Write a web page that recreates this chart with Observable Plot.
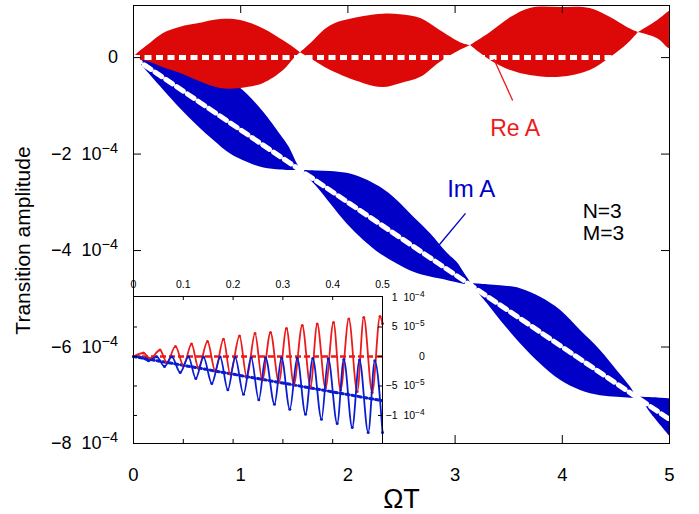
<!DOCTYPE html>
<html><head><meta charset="utf-8">
<script src="https://cdn.jsdelivr.net/npm/d3@7"></script>
<script src="https://cdn.jsdelivr.net/npm/@observablehq/plot@0.6"></script>
<style>
html,body{margin:0;padding:0;background:#fff;}
#wrap{position:relative;width:699px;height:514px;overflow:hidden;background:#fff;}
#main{position:absolute;left:0;top:0;}
#inset{position:absolute;left:123px;top:276px;}
</style></head><body><div id="wrap"><div id="main"></div><div id="inset"></div></div>
<script>
// ---------- main panel data (y in units of 1e-4) ----------
const xTickVals = [0, 1, 2, 3, 4, 5];
const xTickLabels = ["0", "1", "2", "3", "4", "5"];
const yTickVals = [0, -2, -4, -6, -8];
const yTickLabels = ["0", "−2\u00a0\u00a010^−4", "−4\u00a0\u00a010^−4", "−6\u00a0\u00a010^−4", "−8\u00a0\u00a010^−4"];

// Re A: envelope of the fast oscillation, one hump per segment
const redHump = [1,1,1,1,1,1,1,1,1,1,1,1, 2,2,2,2,2,2,2,2,2,2, 3,3,3,3,3,3,3,3,3, 4,4,4,4];
const redX  = [0, 0.04, 0.16, 0.28, 0.44, 0.60, 0.81, 1.00, 1.21, 1.40, 1.50, 1.558,
               1.558, 1.65, 1.84, 2.15, 2.33, 2.49, 2.68, 2.86, 3.05, 3.144,
               3.144, 3.33, 3.52, 3.70, 3.98, 4.26, 4.45, 4.61, 4.71,
               4.71, 4.89, 4.98, 5.00];
const redHi = [0, 0.09, 0.30, 0.50, 0.63, 0.70, 0.79, 0.77, 0.60, 0.35, 0.20, 0.10,
               0.10, 0.28, 0.66, 0.85, 0.90, 0.89, 0.81, 0.56, 0.31, 0.25,
               0.25, 0.52, 0.83, 1.02, 1.04, 1.02, 0.83, 0.62, 0.52,
               0.52, 0.77, 0.93, 0.96];
const redLo = [0, -0.04, -0.10, -0.21, -0.33, -0.48, -0.64, -0.64, -0.54, -0.27, -0.02, 0.10,
               0.10, -0.02, -0.27, -0.54, -0.62, -0.54, -0.41, -0.10, 0.15, 0.25,
               0.25, -0.06, -0.27, -0.37, -0.41, -0.27, 0.00, 0.28, 0.52,
               0.52, 0.39, 0.21, 0.18];

// Im A: envelope of the fast oscillation, one hump per segment
const blueHump = [1,1,1,1,1,1,1,1,1,1,1,1,1,1, 2,2,2,2,2,2,2,2,2,2,2,2,2, 3,3,3,3,3,3,3,3,3,3,3, 4,4,4,4];
const blueX  = [0, 0.035, 0.16, 0.283, 0.438, 0.594, 0.749, 0.905, 1.061, 1.216, 1.371, 1.45, 1.527, 1.558,
                1.589, 1.714, 1.838, 1.993, 2.148, 2.304, 2.460, 2.615, 2.771, 2.926, 3.02, 3.081, 3.144,
                3.174, 3.300, 3.424, 3.610, 3.797, 3.983, 4.170, 4.356, 4.512, 4.636, 4.683,
                4.729, 4.854, 4.994, 5.0];
const blueHi = [0, 0, -0.01, -0.03, -0.09, -0.17, -0.31, -0.48, -0.76, -1.14, -1.60, -1.85, -2.20, -2.31,
                -2.34, -2.35, -2.36, -2.40, -2.51, -2.69, -2.96, -3.31, -3.65, -4.05, -4.25, -4.45, -4.66,
                -4.69, -4.71, -4.73, -4.79, -4.97, -5.24, -5.66, -6.07, -6.49, -6.83, -7.00,
                -7.04, -7.05, -7.07, -7.07];
const blueLo = [0, -0.06, -0.37, -0.68, -1.06, -1.41, -1.72, -2.00, -2.17, -2.29, -2.33, -2.34, -2.34, -2.33,
                -2.41, -2.69, -3.03, -3.45, -3.79, -4.07, -4.28, -4.45, -4.55, -4.62, -4.67, -4.70, -4.70,
                -4.76, -5.10, -5.45, -5.93, -6.35, -6.69, -6.90, -7.01, -7.04, -7.06, -7.07,
                -7.07, -7.45, -7.83, -7.85];

// mean of Im A (white dashed centre line)
const meanX = [0, 5];
const meanY = [0, -7.5];

// annotations
const annoLabels = ["Re A", "Im A", "N=3", "M=3"];
const annoX = [3.56, 3.15, 4.19, 4.19];
const annoY = [-1.62, -2.88, -3.32, -3.79];
const pointerX1 = [3.537, 3.097], pointerY1 = [-0.89, -3.23];
const pointerX2 = [3.361, 2.845], pointerY2 = [-0.027, -3.90];

// ---------- inset data (y in units of 1e-5) ----------
const insetXTickVals = [0, 0.1, 0.2, 0.3, 0.4, 0.5];
const insetXTickLabels = ["0", "0.1", "0.2", "0.3", "0.4", "0.5"];
const insetYTickVals = [10, 5, 0, -5, -10];
const insetYTickLabels = ["1\u00a0\u00a010^−4", "5\u00a0\u00a010^−5", "0", "−5\u00a0\u00a010^−5", "−1\u00a0\u00a010^−4"];

const insetRedX = [0, 0.020, 0.0335, 0.0532, 0.0669, 0.0843, 0.1004, 0.1165, 0.1305, 0.1486, 0.1641, 0.1807, 0.1942, 0.2129, 0.2275, 0.2440, 0.2584, 0.2751, 0.2918, 0.3072, 0.3219, 0.3388, 0.3554, 0.3689, 0.3855, 0.4016, 0.4157, 0.4323, 0.4492, 0.4624, 0.4793, 0.4950, 0.5];
const insetRedY = [0, 0.59, -0.34, 1.10, -1.02, 1.70, -1.53, 2.12, -1.95, 2.54, -2.46, 2.93, -2.97, 3.47, -3.56, 3.90, -3.98, 4.07, -4.32, 4.75, -4.75, 5.25, -5.09, 5.51, -5.34, 5.76, -5.68, 6.36, -5.93, 6.61, -6.10, 6.78, 5.6];
const insetBlueX = [0, 0.012, 0.0301, 0.0468, 0.0622, 0.0769, 0.0938, 0.1104, 0.1251, 0.1406, 0.1572, 0.1741, 0.1894, 0.2042, 0.2209, 0.2363, 0.2516, 0.2651, 0.2831, 0.2972, 0.3139, 0.3287, 0.3454, 0.3600, 0.3775, 0.3910, 0.4090, 0.4223, 0.4392, 0.4538, 0.4713, 0.4845, 0.5];
const insetBlueY = [0, -0.05, -0.73, -0.05, -1.70, -0.05, -2.71, -0.05, -3.73, -0.10, -4.58, -0.10, -5.64, -0.15, -6.39, -0.20, -7.34, -0.20, -8.09, -0.25, -8.93, -0.30, -9.78, -0.35, -10.63, -0.40, -11.36, -0.50, -12.03, -0.60, -12.88, -0.73, -12.9];

// ---------- build tables ----------
const redEnv = redX.map((x, i) => ({x, hi: redHi[i], lo: redLo[i], hump: redHump[i]}));
const blueEnv = blueX.map((x, i) => ({x, hi: blueHi[i], lo: blueLo[i], hump: blueHump[i]}));
const meanData = meanX.map((x, i) => ({x, y: meanY[i]}));
const annos = annoLabels.map((t, i) => ({t, x: annoX[i], y: annoY[i]}));
const pointers = pointerX1.map((x1, i) => ({x1, y1: pointerY1[i], x2: pointerX2[i], y2: pointerY2[i]}));
const insetRed = insetRedX.map((x, i) => ({x, y: insetRedY[i]}));
const insetBlue = insetBlueX.map((x, i) => ({x, y: insetBlueY[i]}));

const FONT = "'Liberation Sans', Arial, Helvetica, sans-serif";
const RED = "#dd0909", BLUE = "#0000c6", RED_L = "#ec1a1a", BLUE_L = "#0a1cd0";

const W = 699, H = 514, mL = 133, mR = 30, mT = 5, mB = 71;
const iW = W - mL - mR, iH = H - mT - mB;

const main = Plot.plot({
  width: W, height: H, marginLeft: mL, marginRight: mR, marginTop: mT, marginBottom: mB,
  style: {fontFamily: FONT, background: "white", color: "black"},
  x: {domain: [0, 5]},
  y: {domain: [-8.0, 1.08]},
  marks: [
    Plot.areaY(blueEnv, {x: "x", y1: "lo", y2: "hi", z: "hump", fill: BLUE, curve: "catmull-rom"}),
    Plot.line(meanData, {x: "x", y: "y", stroke: "white", strokeWidth: 5, strokeDasharray: "8,5", clip: true}),
    Plot.areaY(redEnv, {x: "x", y1: "lo", y2: "hi", z: "hump", fill: RED, curve: "catmull-rom"}),
    Plot.ruleY([0], {stroke: "white", strokeWidth: 5, strokeDasharray: "7,4.5"}),
    Plot.link(pointers.slice(0, 1), {x1: "x1", y1: "y1", x2: "x2", y2: "y2", stroke: RED_L, strokeWidth: 1.3}),
    Plot.link(pointers.slice(1, 2), {x1: "x1", y1: "y1", x2: "x2", y2: "y2", stroke: BLUE, strokeWidth: 1.3}),
    Plot.text(annos.slice(0, 1), {x: "x", y: "y", text: "t", fill: RED_L, fontSize: 23, lineAnchor: "bottom"}),
    Plot.text(annos.slice(1, 2), {x: "x", y: "y", text: "t", fill: BLUE, fontSize: 24, lineAnchor: "bottom"}),
    Plot.text(annos.slice(2), {x: "x", y: "y", text: "t", fill: "black", fontSize: 21, lineAnchor: "bottom", textAnchor: "start"}),
    Plot.tickX(xTickVals.slice(1, -1), {stroke: "black", insetTop: iH - 8}),
    Plot.tickX(xTickVals.slice(1, -1), {stroke: "black", insetBottom: iH - 8}),
    Plot.tickY(yTickVals.slice(0, -1), {stroke: "black", insetRight: iW - 8}),
    Plot.tickY(yTickVals.slice(0, -1), {stroke: "black", insetLeft: iW - 8}),
    Plot.frame({stroke: "black"}),
    Plot.axisX(xTickVals, {tickSize: 0, tickPadding: 24, fontSize: 18.5, label: null,
      tickFormat: d => xTickLabels[xTickVals.indexOf(d)]}),
    Plot.axisY(yTickVals, {tickSize: 0, tickPadding: 15, fontSize: 18, label: null,
      tickFormat: d => yTickLabels[yTickVals.indexOf(d)]}),
    Plot.text(["ΩT"], {frameAnchor: "bottom", dy: 64, fontSize: 27, lineAnchor: "bottom"}),
    Plot.text(["Transition amplitude"], {frameAnchor: "left", rotate: -90, dx: -110, dy: 16, fontSize: 21, textAnchor: "middle"})
  ]
});

const inset = Plot.plot({
  width: 320, height: 172, marginLeft: 10, marginRight: 61, marginTop: 20, marginBottom: 5,
  style: {fontFamily: FONT, background: "transparent", overflow: "visible", color: "black"},
  x: {domain: [0, 0.5]},
  y: {domain: [-14.75, 10.17]},
  marks: [
    Plot.frame({fill: "white", stroke: "none"}),
    Plot.ruleY([0], {stroke: RED_L, strokeWidth: 2.5, strokeDasharray: "6,3"}),
    Plot.line(meanData, {x: "x", y: d => d.y * 10, stroke: BLUE_L, strokeWidth: 3, strokeDasharray: "3,3", clip: true}),
    Plot.line(insetRed, {x: "x", y: "y", stroke: RED_L, strokeWidth: 1.8, curve: "monotone-x"}),
    Plot.dot(insetRed, {x: "x", y: "y", r: 1.5, fill: RED_L}),
    Plot.line(insetBlue, {x: "x", y: "y", stroke: BLUE_L, strokeWidth: 1.8, curve: "monotone-x"}),
    Plot.dot(insetBlue, {x: "x", y: "y", r: 1.5, fill: BLUE_L}),
    Plot.tickX(insetXTickVals.slice(1, -1), {stroke: "black", insetBottom: 143}),
    Plot.tickX(insetXTickVals.slice(1, -1), {stroke: "black", insetTop: 143}),
    Plot.tickY(insetYTickVals.slice(1), {stroke: "black", insetRight: 245}),
    Plot.tickY(insetYTickVals.slice(1), {stroke: "black", insetLeft: 245}),
    Plot.frame({stroke: "black"}),
    Plot.axisX(insetXTickVals, {anchor: "top", tickSize: 0, tickPadding: 9, fontSize: 10.5, label: null,
      tickFormat: d => insetXTickLabels[insetXTickVals.indexOf(d)]}),
    Plot.axisY(insetYTickVals, {anchor: "right", tickSize: 0, tickPadding: 43, textAnchor: "end", fontSize: 10.5, label: null,
      tickFormat: d => insetYTickLabels[insetYTickVals.indexOf(d)]})
  ]
});

document.getElementById("main").appendChild(main);
document.getElementById("inset").appendChild(inset);

// exponents written as "base^exp" become superscript tspans
function supify(svg) {
  const ns = "http://www.w3.org/2000/svg";
  svg.querySelectorAll("text").forEach(t => {
    const s = t.textContent;
    if (!s.includes("^")) return;
    const [base, exp] = s.split("^");
    while (t.firstChild) t.removeChild(t.firstChild);
    const a = document.createElementNS(ns, "tspan"); a.textContent = base; t.appendChild(a);
    const b = document.createElementNS(ns, "tspan"); b.textContent = exp;
    b.setAttribute("dy", "-0.5em"); b.setAttribute("font-size", "0.8em"); t.appendChild(b);
  });
}
supify(main); supify(inset);

// keep the y tick labels right-aligned at a fixed page x by measuring them
function alignRight(svg, targetRight) {
  svg.querySelectorAll('g[aria-label="y-axis tick label"] text').forEach(t => {
    const r = t.getBoundingClientRect();
    const x0 = +(t.getAttribute("x") || 0);
    t.setAttribute("x", String(x0 + targetRight - r.right));
  });
}
alignRight(main, 118);
alignRight(inset, 425);
</script></body></html>
